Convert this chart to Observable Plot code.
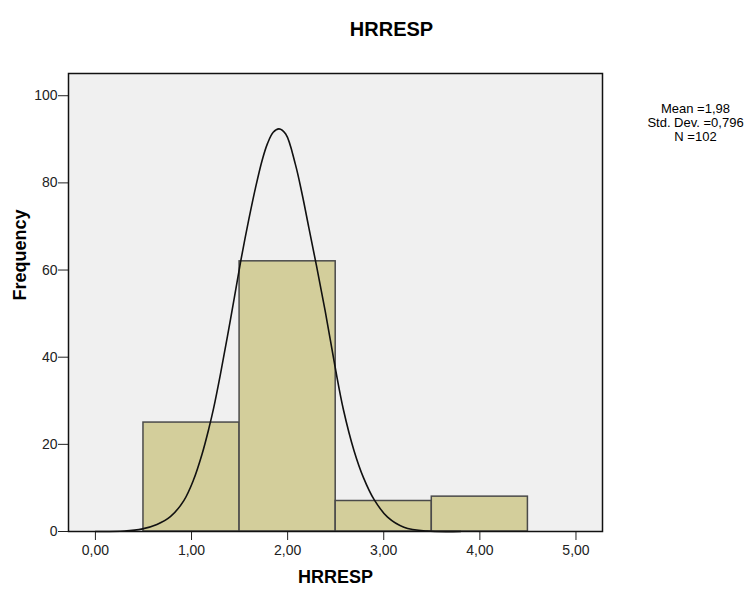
<!DOCTYPE html>
<html>
<head>
<meta charset="utf-8">
<script src="https://cdn.jsdelivr.net/npm/d3@7"></script>
<script src="https://cdn.jsdelivr.net/npm/@observablehq/plot@0.6"></script>
<style>
  html, body { margin: 0; padding: 0; background: #fff; }
  #chart svg { display: block; }
</style>
</head>
<body>
<div id="chart"></div>
<script>
// Histogram bins (lower / upper edges) and frequencies
const binLower = [0.5, 1.5, 2.5, 3.5];
const binUpper = [1.5, 2.5, 3.5, 4.5];
const counts = [25, 62, 7, 8];

// Fitted normal curve, sampled points (value, frequency)
const curveX = [0.00, 0.30, 0.49, 0.64, 0.78, 0.92, 1.02, 1.11, 1.18, 1.23, 1.30, 1.405, 1.51, 1.595, 1.665, 1.735, 1.79, 1.85, 1.91, 1.98, 2.08, 2.15, 2.22, 2.30, 2.39, 2.50, 2.58, 2.69, 2.79, 2.90, 3.04, 3.21, 3.45, 3.80];
const curveY = [0, 0.1, 0.6, 1.6, 3.4, 7.1, 11.8, 17.8, 23.6, 28.3, 36.0, 48.6, 61.8, 71.5, 78.8, 85.2, 89.0, 91.6, 92.4, 91.2, 84.3, 77.5, 69.8, 61.0, 50.7, 37.0, 28.0, 18.6, 12.3, 7.3, 3.3, 1.0, 0.1, 0];

// Axis ticks
const xTicks = [0, 1, 2, 3, 4, 5];
const yTicks = [0, 20, 40, 60, 80, 100];

// Summary statistics
const varName = "HRRESP";
const meanText = "1,98";
const sdText = "0,796";
const nText = "102";

const bins = binLower.map((lo, i) => ({x1: lo, x2: binUpper[i], y: counts[i]}));
const curve = curveX.map((x, i) => ({x, y: curveY[i]}));
const font = "'Liberation Sans', Arial, sans-serif";

const chart = Plot.plot({
  width: 756,
  height: 597,
  marginLeft: 68,
  marginRight: 154,
  marginTop: 73,
  marginBottom: 66,
  style: {fontFamily: font, fontSize: "14px", color: "#222", background: "#fff"},
  x: {
    domain: [-0.28, 5.276],
    ticks: xTicks,
    tickFormat: d => d.toFixed(2).replace(".", ","),
    tickSize: 9,
    tickPadding: 5,
    label: null
  },
  y: {
    domain: [0, 105.1],
    ticks: yTicks,
    tickSize: 10,
    tickPadding: 1,
    label: null
  },
  marks: [
    Plot.frame({fill: "#f0f0f0", stroke: "none"}),
    Plot.rectY(bins, {x1: "x1", x2: "x2", y: "y", fill: "#d3ce9b", stroke: "#4a4a4a", strokeWidth: 1.5}),
    Plot.line(curve, {x: "x", y: "y", curve: "catmull-rom", stroke: "#111", strokeWidth: 1.6}),
    Plot.frame({stroke: "#111", strokeWidth: 1.5}),
    // title
    Plot.text([varName], {frameAnchor: "top", dx: 56, dy: -52, fontSize: 20, fontWeight: "bold", fill: "#000"}),
    // x-axis title
    Plot.text([varName], {frameAnchor: "bottom", dy: 51, fontSize: 18, fontWeight: "bold", fill: "#000"}),
    // y-axis title
    Plot.text(["Frequency"], {frameAnchor: "left", dx: -48, dy: -2, rotate: -90, fontSize: 18, fontWeight: "bold", fill: "#000"}),
    // summary statistics
    Plot.text([`Mean =${meanText}\nStd. Dev. =${sdText}\nN =${nText}`], {
      frameAnchor: "top-right", textAnchor: "middle", lineAnchor: "top",
      dx: 93, dy: 29, fontSize: 13, lineHeight: 1.1, fill: "#000"
    })
  ]
});

document.getElementById("chart").appendChild(chart);
</script>
</body>
</html>
